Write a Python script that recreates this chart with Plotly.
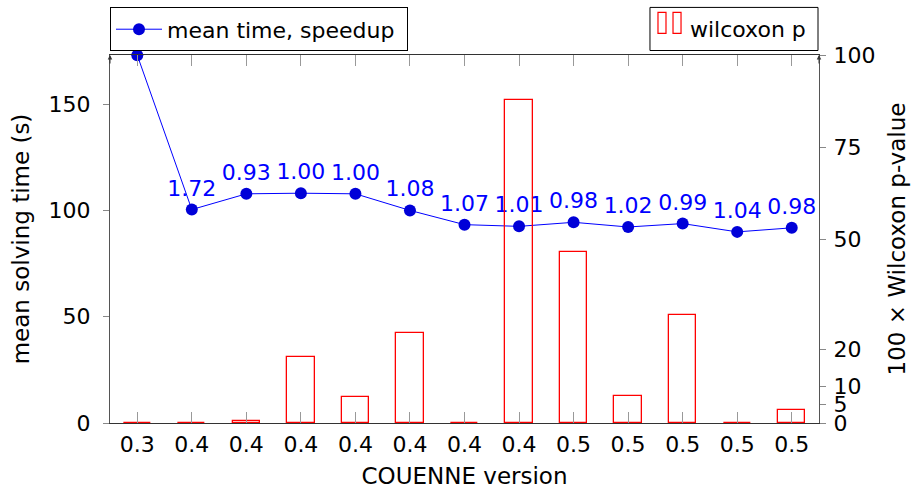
import plotly.graph_objects as go

versions = ["0.3", "0.4", "0.4", "0.4", "0.4", "0.4", "0.4", "0.4", "0.5", "0.5", "0.5", "0.5", "0.5"]
mean_time = [173.0, 100.4, 107.8, 108.1, 107.8, 100.0, 93.3, 92.5, 94.4, 92.2, 93.8, 89.9, 91.8]
speedup_labels = ["", "1.72", "0.93", "1.00", "1.00", "1.08", "1.07", "1.01", "0.98", "1.02", "0.99", "1.04", "0.98"]
wilcoxon_p100 = [0, 0.1, 0.5, 18.0, 7.1, 24.5, 0, 87.9, 46.6, 7.4, 29.4, 0, 3.5]
left_ticks = [0, 50, 100, 150]
right_ticks = [0, 5, 10, 20, 50, 75, 100]

x = list(range(len(versions)))
FONT = "DejaVu Sans"
BLUE = "#0000ff"
RED = "#ff0000"
TICK = 22
TITLE = 23

fig = go.Figure()
fig.add_trace(go.Bar(
    x=x, y=wilcoxon_p100, width=0.5, yaxis="y2", name="wilcoxon p", showlegend=False,
    marker=dict(color="rgba(255,255,255,0)", line=dict(color=RED, width=1.3)),
))
fig.add_trace(go.Scatter(
    x=x, y=mean_time, mode="lines+markers+text", text=speedup_labels,
    textposition="top center", textfont=dict(size=22, color=BLUE, family=FONT),
    line=dict(color=BLUE, width=1), marker=dict(size=12, color="#0000d8"),
    name="mean time, speedup\u00a0", cliponaxis=False, yaxis="y",
))

axis_common = dict(showgrid=False, zeroline=False, automargin=False)
fig.update_layout(
    width=916, height=489,
    margin=dict(l=110, r=97, t=55, b=66, autoexpand=False),
    paper_bgcolor="white", plot_bgcolor="white",
    font=dict(family=FONT, size=TICK, color="black"),
    xaxis=dict(
        range=[-0.5, 12.5], tickmode="array", tickvals=x, ticktext=versions,
        ticks="inside", ticklen=11, tickcolor="#999", showline=True, linecolor="#333",
        linewidth=1, mirror="ticks", tickfont=dict(size=TICK), ticklabelstandoff=2,
        title=dict(text="COUENNE version", font=dict(size=TITLE), standoff=15),
        **axis_common,
    ),
    yaxis=dict(
        range=[0, 173.1], tickmode="array", tickvals=left_ticks, ticks="outside",
        ticklen=6, tickcolor="#888", showline=True, linecolor="#555", linewidth=1,
        tickfont=dict(size=TICK), ticklabelstandoff=8,
        title=dict(text="mean solving time (s)", font=dict(size=TITLE), standoff=12),
        **axis_common,
    ),
    yaxis2=dict(
        overlaying="y", side="right", anchor="x", range=[0, 100], tickmode="array",
        tickvals=right_ticks, ticks="outside", ticklen=6, tickcolor="#888",
        showline=True, linecolor="#555", linewidth=1, tickfont=dict(size=TICK),
        ticklabelstandoff=3,
        title=dict(text="100 × Wilcoxon p-value", font=dict(size=TITLE), standoff=14),
        **axis_common,
    ),
    yaxis3=dict(
        overlaying="y", side="left", anchor="x", range=[0, 173.1], tickmode="array",
        tickvals=left_ticks, ticks="inside", ticklen=6, tickcolor="#888",
        showticklabels=False, showline=False, **axis_common,
    ),
    yaxis4=dict(
        overlaying="y", side="right", anchor="x", range=[0, 100], tickmode="array",
        tickvals=right_ticks, ticks="inside", ticklen=6, tickcolor="#888",
        showticklabels=False, showline=False, **axis_common,
    ),
    legend=dict(
        x=0, y=1.1293, xanchor="left", yanchor="top", bordercolor="black",
        borderwidth=1, bgcolor="white", font=dict(size=22), itemwidth=46,
    ),
    bargap=0,
)

# custom legend box for the bar series (two narrow bars icon)
fig.add_shape(type="rect", xref="paper", yref="paper", x0=0.7616, x1=0.9986, y0=1.0122, y1=1.1293,
              line=dict(color="black", width=1), fillcolor="white", layer="above")
fig.add_shape(type="rect", xref="paper", yref="paper", x0=0.7729, x1=0.7842, y0=1.0585, y1=1.1156,
              line=dict(color=RED, width=1.2), layer="above")
fig.add_shape(type="rect", xref="paper", yref="paper", x0=0.7941, x1=0.8054, y0=1.0585, y1=1.1156,
              line=dict(color=RED, width=1.2), layer="above")
fig.add_annotation(xref="paper", yref="paper", x=0.8152, y=1.0694, text="wilcoxon p",
                   showarrow=False, xanchor="left", yanchor="middle", font=dict(size=22))

# axis arrow tips
for xp in (0, 1):
    fig.add_annotation(xref="paper", yref="paper", x=xp, y=1.0, ax=0, ay=10, text="",
                       showarrow=True, arrowhead=2, arrowsize=0.9, arrowwidth=1, arrowcolor="#333")

fig.write_html("out.html")
